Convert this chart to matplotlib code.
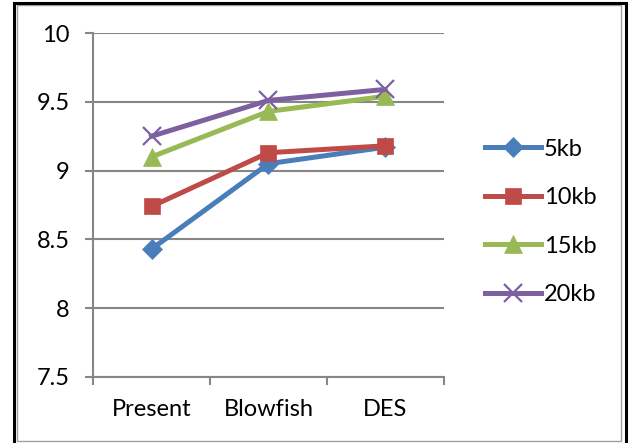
import matplotlib
matplotlib.use('Agg')
import matplotlib.pyplot as plt
from matplotlib.patches import Rectangle

categories = ['Present', 'Blowfish', 'DES']
series_names = ['5kb', '10kb', '15kb', '20kb']
values_5kb = [8.43, 9.05, 9.17]
values_10kb = [8.74, 9.13, 9.18]
values_15kb = [9.10, 9.43, 9.54]
values_20kb = [9.25, 9.51, 9.59]
y_ticks = [7.5, 8, 8.5, 9, 9.5, 10]

plt.rcParams['font.family'] = ['Lato', 'DejaVu Sans']

colors = ['#4A7EBB', '#BE4B48', '#98B954', '#7D60A0']
markers = ['D', 's', '^', 'x']
msizes = [10, 12, 13, 13]

fig = plt.figure(figsize=(6.3, 4.43), dpi=100)
ax = fig.add_axes([0.148, 0.149, 0.556, 0.7765])

x = range(len(categories))
all_values = [values_5kb, values_10kb, values_15kb, values_20kb]
for i, vals in enumerate(all_values):
    ax.plot(x, vals, color=colors[i], linewidth=3.6, marker=markers[i],
            markersize=msizes[i], markeredgewidth=1.6 if markers[i] == 'x' else 0.5,
            markeredgecolor=colors[i], label=series_names[i], zorder=3)

ax.set_xlim(-0.5, 2.5)
ax.set_ylim(7.5, 10)
ax.set_yticks(y_ticks)
ax.set_yticklabels(['7.5', '8', '8.5', '9', '9.5', '10'])
ax.set_xticks(list(x))
ax.set_xticklabels(categories)
ax.set_xticks([-0.5, 0.5, 1.5, 2.5], minor=True)

grid_color = '#868686'
ax.grid(axis='y', color=grid_color, linewidth=1.5, zorder=1)
for s in ['top', 'right']:
    ax.spines[s].set_visible(False)
ax.spines['left'].set_color(grid_color)
ax.spines['left'].set_linewidth(1.5)
ax.spines['bottom'].set_color(grid_color)
ax.spines['bottom'].set_linewidth(1.5)

ax.tick_params(axis='y', direction='out', length=6, width=1.5, color=grid_color,
               labelsize=17, pad=11)
ax.tick_params(axis='x', which='major', length=0, labelsize=17, pad=16)
ax.tick_params(axis='x', which='minor', direction='out', length=6, width=1.5,
               color=grid_color)

leg = ax.legend(loc='center left', bbox_to_anchor=(0.755, 0.499),
                bbox_transform=fig.transFigure, frameon=False, fontsize=17,
                handlelength=2.37, handletextpad=0.12, labelspacing=1.17,
                borderaxespad=0)

# chart border: thin gray box with a dark frame outside it
fig.patches.append(Rectangle((0.027, 0.0034), 0.9587, 0.9842, transform=fig.transFigure,
                             fill=False, edgecolor='#a0a0a0', linewidth=1.0))
fig.patches.append(Rectangle((0.023, -0.02), 0.9707, 1.0132, transform=fig.transFigure,
                             fill=False, edgecolor='black', linewidth=2.2))

fig.savefig('out.png', dpi=100)
